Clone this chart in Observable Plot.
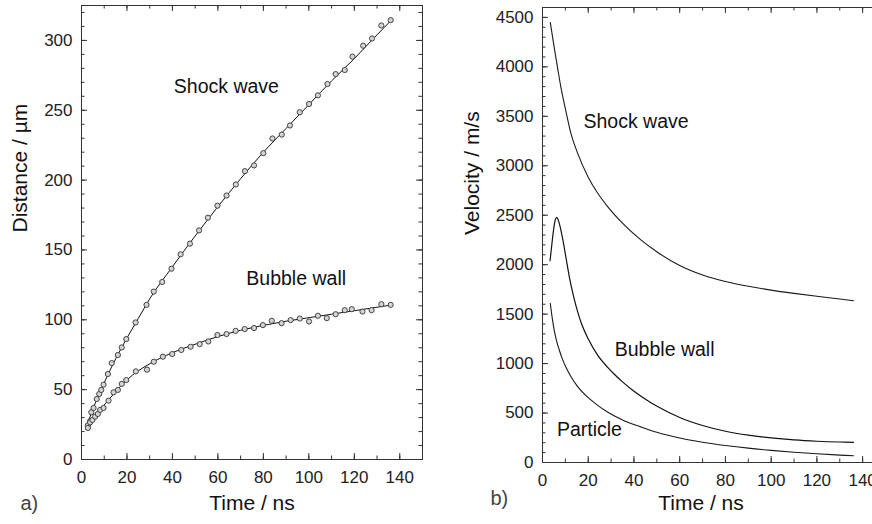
<!DOCTYPE html>
<html>
<head>
<meta charset="utf-8">
<script src="https://cdn.jsdelivr.net/npm/d3@7"></script>
<script src="https://cdn.jsdelivr.net/npm/@observablehq/plot@0.6"></script>
<style>
  html, body { margin: 0; padding: 0; background: #fff; }
  body { width: 872px; height: 524px; overflow: hidden; position: relative; font-family: "Liberation Sans", Arial, sans-serif; }
  #a { position: absolute; left: 0; top: 0; width: 440px; }
  #b { position: absolute; left: 440px; top: 0; width: 460px; }
  svg { max-width: none !important; }
</style>
</head>
<body>
<div id="a"></div>
<div id="b"></div>
<script>
// ---------- Panel a) : distance vs time (measured points) ----------
const shockTime = [2.8, 3.8, 4.3, 5.3, 6.7, 7.8, 8.7, 9.7, 11.6, 13.3, 16.0, 17.7, 19.7, 23.8, 28.6, 31.8, 35.5, 39.6, 43.6, 47.7, 51.7, 55.6, 59.8, 63.8, 67.9, 71.9, 75.9, 80.0, 84.0, 88.1, 91.7, 96.0, 100.1, 104.0, 108.2, 111.8, 115.8, 119.2, 123.9, 127.8, 131.9, 136.0];
const shockDist = [24.5, 27.5, 33.8, 36.9, 43.3, 46.9, 49.8, 53.6, 61.2, 69.0, 74.8, 80.2, 86.2, 98.1, 110.7, 120.2, 127.1, 136.6, 146.9, 154.5, 164.0, 173.1, 181.7, 189.0, 196.9, 206.4, 210.5, 219.3, 229.8, 232.6, 239.1, 248.6, 254.5, 260.7, 268.8, 275.9, 278.8, 288.4, 296.2, 301.4, 310.7, 314.5];

const bubbleTime = [2.8, 3.8, 4.8, 6.0, 7.2, 8.2, 9.7, 11.9, 14.1, 16.0, 17.7, 19.7, 23.9, 28.8, 31.8, 35.8, 39.9, 43.9, 48.0, 52.0, 55.8, 59.8, 63.8, 67.8, 71.8, 75.9, 79.8, 83.7, 88.0, 92.0, 96.0, 100.1, 104.0, 107.9, 111.8, 115.8, 118.9, 123.6, 127.6, 131.9, 136.0];
const bubbleDist = [22.6, 26.6, 28.3, 30.7, 32.6, 35.5, 36.9, 42.1, 48.1, 49.8, 54.1, 56.9, 63.1, 64.3, 70.0, 73.6, 75.5, 78.4, 80.7, 82.6, 84.5, 89.1, 89.8, 92.1, 93.4, 94.1, 96.2, 99.3, 97.6, 99.8, 100.9, 98.8, 102.9, 101.2, 104.0, 106.9, 107.6, 105.9, 106.9, 111.2, 110.7];

// fitted curves
const fitTime = [2.5, 5, 10, 15, 20, 25, 30, 40, 50, 60, 70, 80, 90, 100, 110, 120, 130, 136];
const shockFit = [25, 36, 55, 72, 87, 101, 115, 138, 160, 181, 201, 220, 237, 254, 271, 287, 304, 314];
const bubbleFit = [23, 29, 39, 48.5, 57, 63.5, 68.5, 76.5, 82.5, 88, 92.5, 96, 99, 101.5, 104, 106.5, 109, 110.5];

// ---------- Panel b) : velocity vs time ----------
const vShockTime = [3.4, 5.1, 6.6, 8.0, 10.2, 12.4, 15.3, 20.1, 24.1, 28.4, 35, 43, 50.3, 60, 70, 80, 90, 100, 110, 120, 130, 136];
const vShock = [4449, 4200, 3990, 3800, 3556, 3330, 3130, 2880, 2725, 2590, 2420, 2250, 2125, 1991, 1895, 1830, 1782, 1743, 1710, 1680, 1653, 1636];

const vBubbleTime = [3.3, 4.3, 5.2, 6.2, 7.0, 7.8, 9.0, 10.2, 11.7, 13.8, 15.3, 16.8, 20.2, 24.1, 28.4, 31.3, 35, 40, 47.4, 50.3, 60, 70, 80, 90, 100, 110, 120, 130, 136];
const vBubble = [2040, 2250, 2410, 2478, 2445, 2375, 2240, 2080, 1880, 1660, 1530, 1420, 1240, 1085, 965, 895, 815, 720, 605, 566, 455, 374, 316, 276, 248, 228, 215, 207, 204];

const vParticleTime = [3.4, 4.2, 5.1, 6.2, 7.3, 8.8, 10.2, 12.4, 15.3, 20, 24, 28.4, 35, 43, 50, 60, 70, 80, 90, 100, 110, 120, 130, 136];
const vParticle = [1610, 1470, 1340, 1225, 1140, 1040, 965, 870, 770, 655, 580, 510, 430, 360, 305, 247, 205, 172, 145, 123, 104, 88, 75, 68];

// ---------- labels ----------
const labelsA = ["Shock wave", "Bubble wall"];
const labelsATime = [40.6, 72.5];
const labelsAValue = [266.5, 129.4];
const labelsB = ["Shock wave", "Bubble wall", "Particle"];
const labelsBTime = [17.9, 31.6, 6.3];
const labelsBValue = [3445, 1140, 328];

const xTicks = [0, 20, 40, 60, 80, 100, 120, 140];
const yTicksA = [0, 50, 100, 150, 200, 250, 300];
const yTicksB = [0, 500, 1000, 1500, 2000, 2500, 3000, 3500, 4000, 4500];

// ---------- build tables ----------
const zip = (xs, ys) => xs.map((x, i) => ({x, y: ys[i]}));
const shockPts = zip(shockTime, shockDist);
const bubblePts = zip(bubbleTime, bubbleDist);
const shockLine = zip(fitTime, shockFit);
const bubbleLine = zip(fitTime, bubbleFit);
const vShockLine = zip(vShockTime, vShock);
const vBubbleLine = zip(vBubbleTime, vBubble);
const vParticleLine = zip(vParticleTime, vParticle);
const annA = labelsA.map((t, i) => ({t, x: labelsATime[i], y: labelsAValue[i]}));
const annB = labelsB.map((t, i) => ({t, x: labelsBTime[i], y: labelsBValue[i]}));

const FONT = '"Liberation Sans", Arial, Helvetica, sans-serif';
const INK = "#222";
const plain = d => String(d);

function frameTicks(xMajor, xMinor, yMajor, yMinor, plotW, plotH) {
  const big = 6, small = 3.5, s = {stroke: "#333", strokeWidth: 1};
  return [
    Plot.tickY(yMajor, {y: d => d, insetRight: plotW - big, ...s}),
    Plot.tickY(yMinor, {y: d => d, insetRight: plotW - small, ...s}),
    Plot.tickY(yMajor, {y: d => d, insetLeft: plotW - big, ...s}),
    Plot.tickY(yMinor, {y: d => d, insetLeft: plotW - small, ...s}),
    Plot.tickX(xMajor, {x: d => d, insetTop: plotH - big, ...s}),
    Plot.tickX(xMinor, {x: d => d, insetTop: plotH - small, ...s}),
    Plot.tickX(xMajor, {x: d => d, insetBottom: plotH - big, ...s}),
    Plot.tickX(xMinor, {x: d => d, insetBottom: plotH - small, ...s})
  ];
}

// ---------- Panel a ----------
{
  const W = 440, H = 524, mL = 81, mR = 18, mT = 5, mB = 65;
  const plotW = W - mL - mR, plotH = H - mT - mB;
  const xMinor = d3.range(0, 151, 10);
  const yMinor = d3.range(0, 326, 10);
  const chart = Plot.plot({
    width: W, height: H,
    marginLeft: mL, marginRight: mR, marginTop: mT, marginBottom: mB,
    style: `font-family: ${FONT}; font-size: 17px; color: ${INK}; background: #fff; max-width: none;`,
    x: {domain: [0, 150]},
    y: {domain: [0, 325]},
    marks: [
      ...frameTicks(xTicks, xMinor, yTicksA, yMinor, plotW, plotH),
      Plot.frame({stroke: "#333", strokeWidth: 1}),
      Plot.axisY(yTicksA, {tickSize: 0, tickPadding: 9, label: null, tickFormat: plain, fill: INK}),
      Plot.axisX(xTicks, {tickSize: 0, tickPadding: 11, label: null, tickFormat: plain, fill: INK}),
      Plot.line(shockLine, {x: "x", y: "y", stroke: "#111", strokeWidth: 1, curve: "monotone-x"}),
      Plot.line(bubbleLine, {x: "x", y: "y", stroke: "#111", strokeWidth: 1, curve: "monotone-x"}),
      Plot.dot(shockPts, {x: "x", y: "y", r: 2.6, fill: "#d4d4d4", stroke: "#333", strokeWidth: 0.9}),
      Plot.dot(bubblePts, {x: "x", y: "y", r: 2.6, fill: "#d4d4d4", stroke: "#333", strokeWidth: 0.9}),
      Plot.text(annA, {x: "x", y: "y", text: "t", textAnchor: "start", fontSize: 19.5, fill: "#111"}),
      Plot.text(["Time / ns"], {frameAnchor: "bottom", dy: 50, fontSize: 21, fill: "#111"}),
      Plot.text(["Distance / µm"], {frameAnchor: "left", dx: -61, rotate: -90, fontSize: 21, fill: "#111"}),
      Plot.text(["a)"], {frameAnchor: "bottom-left", dx: -61, dy: 50, textAnchor: "start", fontSize: 20, fill: "#444"})
    ]
  });
  document.getElementById("a").append(chart);
}

// ---------- Panel b ----------
{
  const W = 460, H = 524, mL = 102, mR = 15, mT = 7, mB = 62;
  const plotW = W - mL - mR, plotH = H - mT - mB;
  const xMinor = d3.range(0, 151, 10);
  const yMinor = d3.range(0, 4601, 100);
  const chart = Plot.plot({
    width: W, height: H,
    marginLeft: mL, marginRight: mR, marginTop: mT, marginBottom: mB,
    style: `font-family: ${FONT}; font-size: 17px; color: ${INK}; background: #fff; max-width: none;`,
    x: {domain: [0, 150]},
    y: {domain: [0, 4600]},
    marks: [
      ...frameTicks(xTicks, xMinor, yTicksB, yMinor, plotW, plotH),
      Plot.frame({stroke: "#333", strokeWidth: 1}),
      Plot.axisY(yTicksB, {tickSize: 0, tickPadding: 9, label: null, tickFormat: plain, fill: INK}),
      Plot.axisX(xTicks, {tickSize: 0, tickPadding: 11, label: null, tickFormat: plain, fill: INK}),
      Plot.line(vShockLine, {x: "x", y: "y", stroke: "#1a1a1a", strokeWidth: 1.1, curve: "monotone-x"}),
      Plot.line(vBubbleLine, {x: "x", y: "y", stroke: "#111", strokeWidth: 1.2, curve: "monotone-x"}),
      Plot.line(vParticleLine, {x: "x", y: "y", stroke: "#1a1a1a", strokeWidth: 1.1, curve: "monotone-x"}),
      Plot.text(annB, {x: "x", y: "y", text: "t", textAnchor: "start", fontSize: 19.5, fill: "#111"}),
      Plot.text(["Time / ns"], {frameAnchor: "bottom", dx: -13, dy: 47, fontSize: 21, fill: "#111"}),
      Plot.text(["Velocity / m/s"], {frameAnchor: "left", dx: -70, rotate: -90, fontSize: 21, fill: "#111"}),
      Plot.text(["b)"], {frameAnchor: "bottom-left", dx: -52, dy: 42, textAnchor: "start", fontSize: 20, fill: "#444"})
    ]
  });
  document.getElementById("b").append(chart);
}
</script>
</body>
</html>
